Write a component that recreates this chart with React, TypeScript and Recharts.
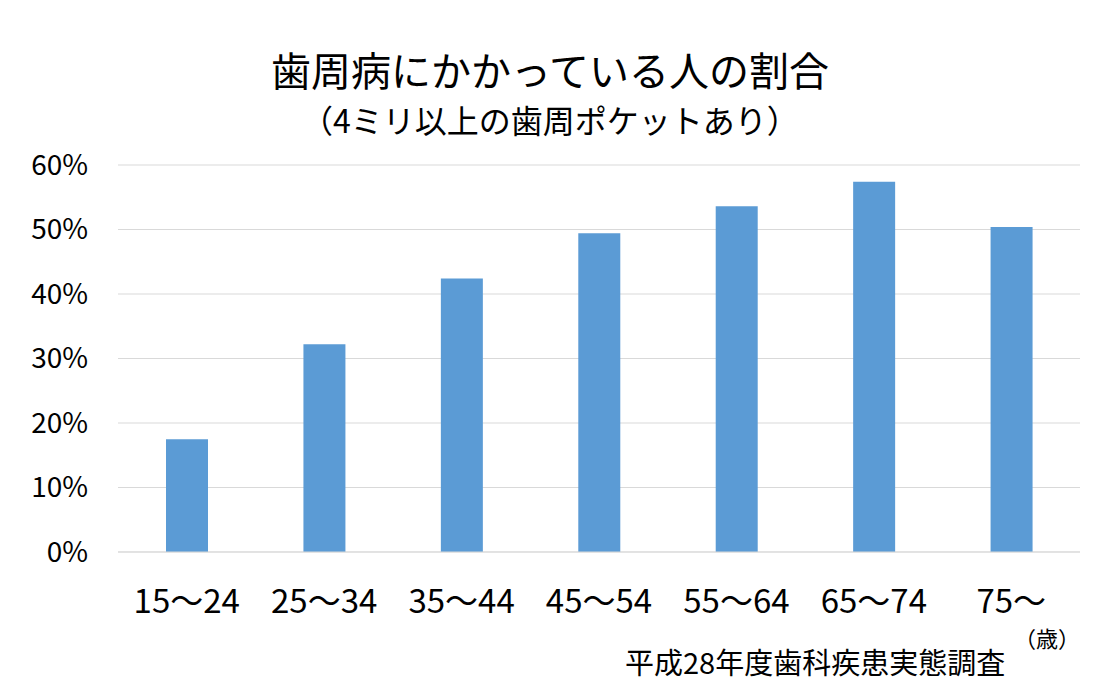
import React from 'react';
import { BarChart, Bar, XAxis, YAxis, CartesianGrid } from 'recharts';

const ageGroups = ['15～24', '25～34', '35～44', '45～54', '55～64', '65～74', '75～'];
const ratePct = [17.5, 32.2, 42.4, 49.4, 53.6, 57.4, 50.4];
const yTicks = [0, 10, 20, 30, 40, 50, 60];

const FONT = '"Noto Sans CJK JP", "Noto Sans", sans-serif';

const data = ageGroups.map((age, i) => ({ age, rate: ratePct[i] }));

const App: React.FC = () => {
  return (
    <div
      style={{
        position: 'absolute',
        left: 0,
        top: 0,
        width: 1120,
        height: 690,
        background: '#fff',
        fontFamily: FONT,
        color: '#000',
      }}
    >
      <div style={{ position: 'absolute', left: 0, width: 1100, top: 48, textAlign: 'center', fontSize: 40, lineHeight: '42px' }}>
        歯周病にかかっている人の割合
      </div>
      <div style={{ position: 'absolute', left: 0, width: 1100, top: 102, textAlign: 'center', fontSize: 32, lineHeight: '34px' }}>
        （4ミリ以上の歯周ポケットあり）
      </div>
      <BarChart
        width={1120}
        height={690}
        data={data}
        margin={{ top: 165, right: 40, bottom: 108, left: 0 }}
      >
        <CartesianGrid vertical={false} stroke="#d9d9d9" strokeWidth={1} />
        <XAxis
          dataKey="age"
          axisLine={{ stroke: '#d9d9d9' }}
          tickLine={false}
          tickSize={0}
          tickMargin={38}
          tick={{ fill: '#000', fontSize: 33, fontFamily: FONT }}
          interval={0}
        />
        <YAxis
          width={118}
          domain={[0, 60]}
          ticks={yTicks}
          axisLine={false}
          tickLine={false}
          tickSize={0}
          tickMargin={30}
          tickFormatter={(v: number) => `${v}%`}
          tick={{ fill: '#000', fontSize: 28, fontFamily: FONT }}
        />
        <Bar dataKey="rate" fill="#5b9bd5" barSize={42} isAnimationActive={false} />
      </BarChart>
      <div style={{ position: 'absolute', left: 1014, top: 625, fontSize: 22, lineHeight: '24px', whiteSpace: 'nowrap' }}>
        （歳）
      </div>
      <div style={{ position: 'absolute', left: 625, top: 646, fontSize: 29, lineHeight: '31px', whiteSpace: 'nowrap' }}>
        平成28年度歯科疾患実態調査
      </div>
    </div>
  );
};

export default App;
